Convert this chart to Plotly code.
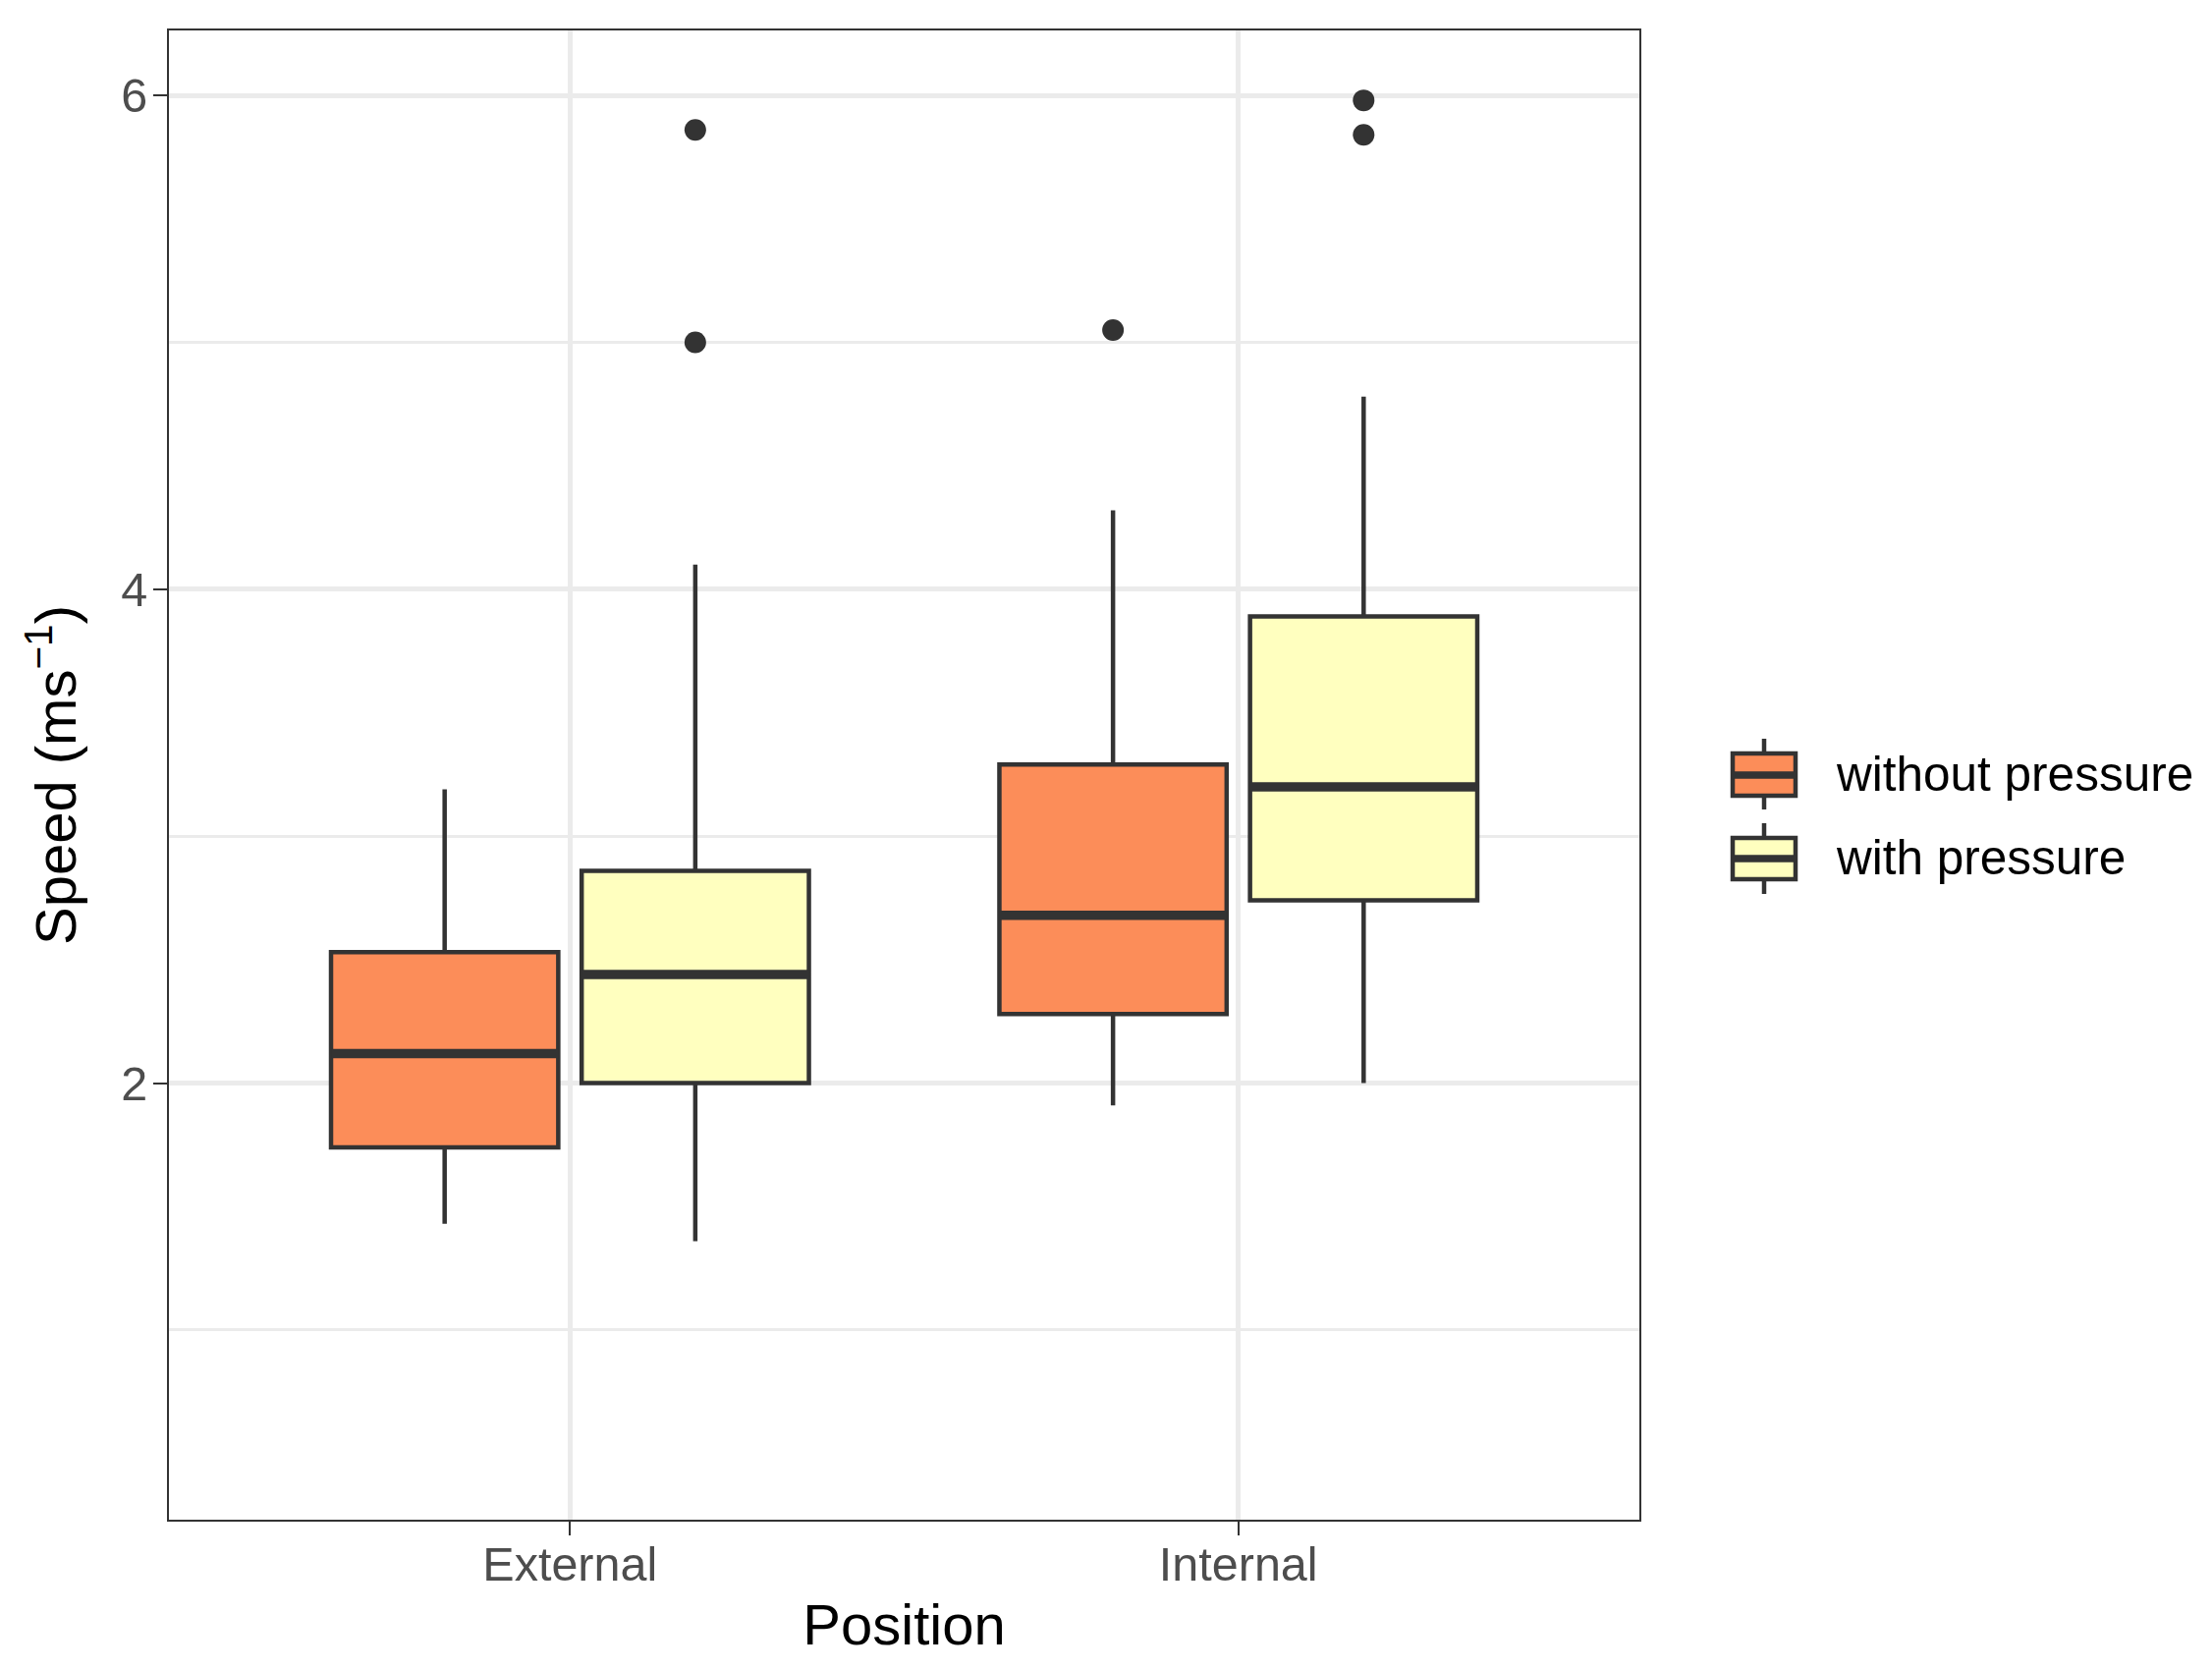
import plotly.graph_objects as go

# ---------------- data ----------------
categories = ["External", "Internal"]
groups = ["without pressure", "with pressure"]
fill_colors = ["#FC8D59", "#FFFFBF"]

lower_whisker = {"without pressure": [1.43, 1.91], "with pressure": [1.36, 2.00]}
q1 = {"without pressure": [1.74, 2.28], "with pressure": [2.00, 2.74]}
median = {"without pressure": [2.12, 2.68], "with pressure": [2.44, 3.20]}
q3 = {"without pressure": [2.53, 3.29], "with pressure": [2.86, 3.89]}
upper_whisker = {"without pressure": [3.19, 4.32], "with pressure": [4.10, 4.78]}
outliers = {"without pressure": [[], [5.05]],
            "with pressure": [[5.86, 5.00], [5.98, 5.84]]}

y_ticks = [2, 4, 6]
y_minor = [1, 3, 5]
y_title = "Speed (ms<sup>\u22121</sup>)"
x_title = "Position"

# ---------------- style ----------------
FONT = "Liberation Sans, Arial, Helvetica, sans-serif"
DARK = "#333333"
GRID = "#EBEBEB"
PAGE_OFFSET = 8          # default body margin of the html page
W, H = 2252 - PAGE_OFFSET, 1700 - PAGE_OFFSET
ML, MT = 172 - PAGE_OFFSET, 31 - PAGE_OFFSET
PW, PH = 1497, 1516
MR, MB = W - ML - PW, H - MT - PH
dodge = 0.1875
box_w = 0.34
line_w = 4.5
median_w = 9.5

fig = go.Figure()

for gi, g in enumerate(groups):
    off = (gi - 0.5) * 2 * dodge
    xs = [ci + off for ci in range(len(categories))]
    fig.add_trace(go.Box(
        x=xs, q1=q1[g], median=median[g], q3=q3[g],
        lowerfence=lower_whisker[g], upperfence=upper_whisker[g],
        width=box_w, fillcolor=fill_colors[gi],
        line=dict(color=DARK, width=line_w), whiskerwidth=0,
        name=g, showlegend=False, boxpoints=False, hoverinfo="y"))
    for ci, xc in enumerate(xs):
        fig.add_trace(go.Scatter(
            x=[xc - box_w / 2, xc + box_w / 2], y=[median[g][ci]] * 2,
            mode="lines", line=dict(color=DARK, width=median_w),
            showlegend=False, hoverinfo="skip"))
    ox, oy = [], []
    for ci, vals in enumerate(outliers[g]):
        ox += [xs[ci]] * len(vals)
        oy += vals
    fig.add_trace(go.Scatter(
        x=ox, y=oy, mode="markers", marker=dict(color=DARK, size=22),
        showlegend=False, hoverinfo="y"))

# ---------------- manual legend (boxplot keys), positions in image pixels ----------------


def px(x):
    return (x - PAGE_OFFSET - ML) / PW


def py(y):
    return (MT + PH - (y - PAGE_OFFSET)) / PH


shapes = []
annotations = []
key_cx = 1796
key_half = 32
key_rows = [(767, 810, 789, 752, 824), (853, 895, 874, 838, 910)]
for gi, g in enumerate(groups):
    top, bot, mid, wt, wb = key_rows[gi]
    common = dict(xref="paper", yref="paper", layer="above")
    shapes.append(dict(type="line", x0=px(key_cx), x1=px(key_cx), y0=py(wt), y1=py(top),
                       line=dict(color=DARK, width=line_w), **common))
    shapes.append(dict(type="line", x0=px(key_cx), x1=px(key_cx), y0=py(bot), y1=py(wb),
                       line=dict(color=DARK, width=line_w), **common))
    shapes.append(dict(type="rect", x0=px(key_cx - key_half), x1=px(key_cx + key_half),
                       y0=py(bot), y1=py(top), fillcolor=fill_colors[gi],
                       line=dict(color=DARK, width=line_w), **common))
    shapes.append(dict(type="line", x0=px(key_cx - key_half), x1=px(key_cx + key_half),
                       y0=py(mid), y1=py(mid), line=dict(color=DARK, width=7.5), **common))
    annotations.append(dict(x=px(1867), y=py(mid - 2), xref="paper", yref="paper",
                            text=g, showarrow=False, xanchor="left", yanchor="middle",
                            font=dict(family=FONT, size=49.5, color="black")))

axis_common = dict(
    showline=True, linecolor=DARK, linewidth=2, mirror=True,
    ticks="outside", ticklen=14, tickwidth=2, tickcolor=DARK,
    showgrid=True, gridcolor=GRID, gridwidth=4.5, zeroline=False,
    tickfont=dict(family=FONT, size=48.5, color="#4D4D4D"),
)

fig.update_layout(
    width=W, height=H, autosize=False,
    margin=dict(l=ML, r=MR, t=MT, b=MB, autoexpand=False),
    paper_bgcolor="white", plot_bgcolor="white",
    font=dict(family=FONT, color="black"),
    showlegend=False,
    xaxis=dict(range=[-0.6, 1.6], tickmode="array",
               tickvals=list(range(len(categories))), ticktext=categories,
               ticklabelstandoff=-12,
               title=dict(text=x_title, font=dict(family=FONT, size=58, color="black"), standoff=15),
               **axis_common),
    yaxis=dict(range=[0.232, 6.263], tickmode="array", tickvals=y_ticks,
               ticklabelstandoff=-4,
               minor=dict(tickmode="array", tickvals=y_minor, showgrid=True,
                          gridcolor=GRID, gridwidth=2.5, ticks=""),
               title=dict(text=y_title, font=dict(family=FONT, size=58, color="black"), standoff=27),
               **axis_common),
    shapes=shapes, annotations=annotations,
)

fig.write_html("out.html")
